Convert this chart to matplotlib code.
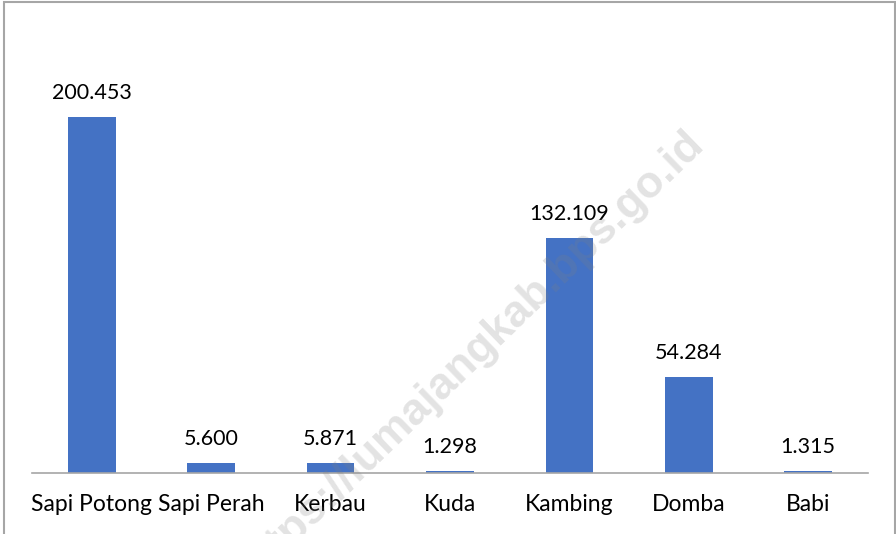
import matplotlib
matplotlib.use("Agg")
import matplotlib.pyplot as plt
from matplotlib.patches import Rectangle

categories = ["Sapi Potong", "Sapi Perah", "Kerbau", "Kuda", "Kambing", "Domba", "Babi"]
values = [200453, 5600, 5871, 1298, 132109, 54284, 1315]
labels = ["200.453", "5.600", "5.871", "1.298", "132.109", "54.284", "1.315"]

plt.rcParams['font.family'] = ['Lato', 'DejaVu Sans']

fig = plt.figure(figsize=(8.96, 5.34), dpi=100)
W, H = 896, 534
ax = fig.add_axes([32 / W, 1 - 473 / H, (868 - 32) / W, (473 - 29) / H])

x = list(range(len(categories)))
ax.bar(x, values, width=0.40, color="#4472C4", zorder=2)
ax.set_xlim(-0.5, len(categories) - 0.5)
ax.set_ylim(0, 250000)
for xi, v, lab in zip(x, values, labels):
    ax.annotate(lab, (xi, v), xytext=(0, 10), textcoords="offset points",
                ha="center", va="bottom", fontsize=15.5, color="#000000",
                zorder=12)

ax.set_yticks([])
ax.set_xticks(x)
ax.set_xticklabels(categories, fontsize=16.5, color="#000000")
ax.tick_params(axis="x", length=0, pad=15)
for s in ["top", "right", "left"]:
    ax.spines[s].set_visible(False)
ax.spines["bottom"].set_color("#a6a6a6")
ax.spines["bottom"].set_linewidth(1.2)

# chart border
fig.add_artist(Rectangle((4 / W, -0.05), (895 - 4) / W, 1 - 1.5 / H + 0.05,
                         transform=fig.transFigure, fill=False,
                         edgecolor="#a6a6a6", linewidth=1.5))

# watermark
fig.text(706 / W, 1 - 145 / H, "https://lumajangkab.bps.go.id", rotation=44,
         rotation_mode="anchor", ha="right", va="baseline", fontsize=32,
         family="Liberation Sans", fontweight="bold", color="#808080",
         alpha=0.22, zorder=10)

fig.savefig("out.png", dpi=100)
